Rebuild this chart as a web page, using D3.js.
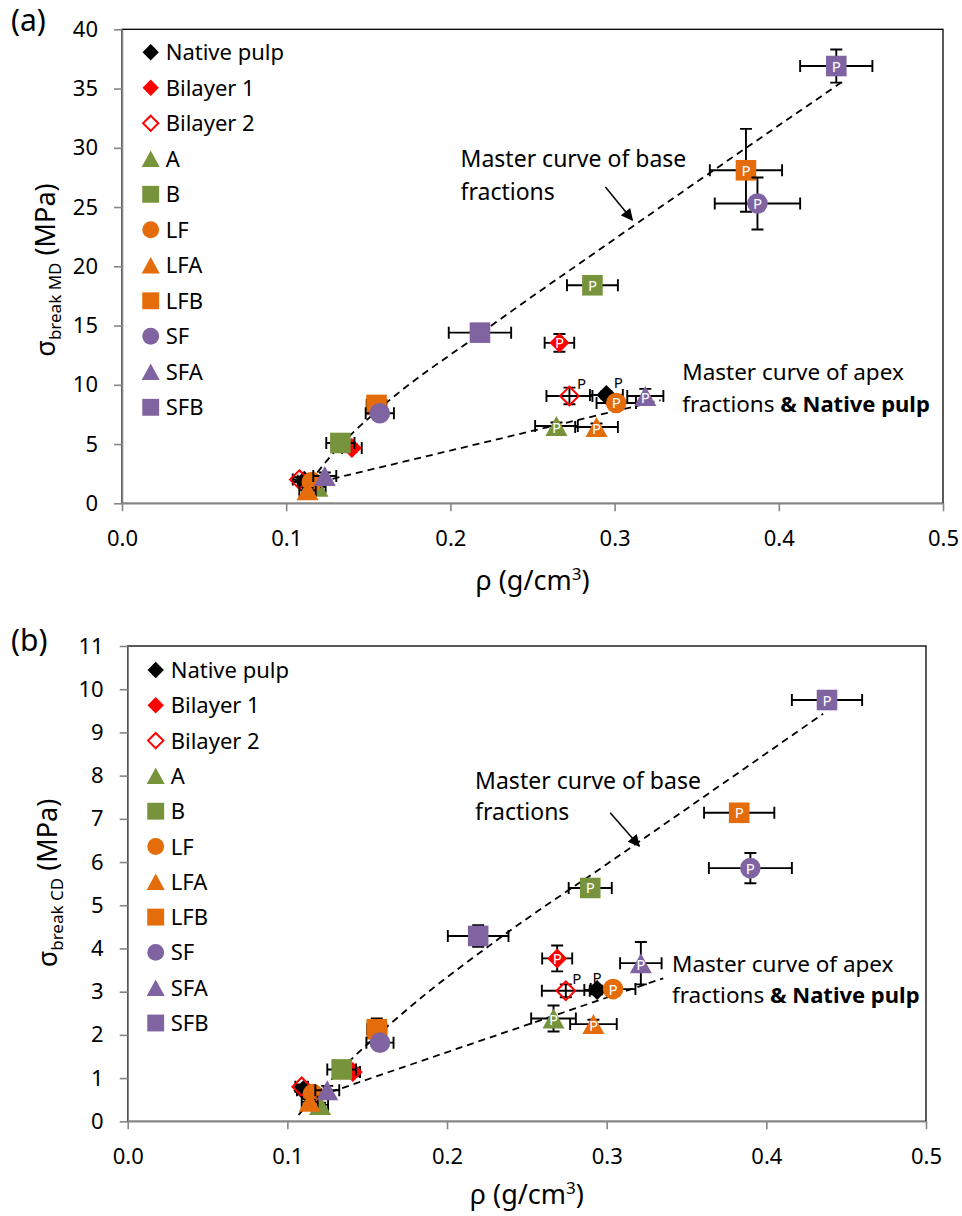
<!DOCTYPE html>
<html>
<head>
<meta charset="utf-8">
<script src="https://cdn.jsdelivr.net/npm/d3@7"></script>
<style>
  html, body { margin: 0; padding: 0; background: #fff; }
  svg { display: block; font-family: "Noto Sans", "Open Sans", sans-serif; }
</style>
</head>
<body>
<svg id="fig" width="962" height="1216"></svg>
<script>
// ---- series definitions ----
const seriesNames  = ["Native pulp", "Bilayer 1", "Bilayer 2", "A", "B", "LF", "LFA", "LFB", "SF", "SFA", "SFB"];
const seriesColors = ["#000000", "#ff0000", "#ff0000", "#77933c", "#77933c", "#e46c0a", "#e46c0a", "#e46c0a", "#8064a2", "#8064a2", "#8064a2"];
const seriesShapes = ["diamond", "diamond", "diamondOpen", "triangle", "square", "circle", "triangle", "square", "circle", "triangle", "square"];

// ---- tick values ----
const rhoTicks = [0, 0.1, 0.2, 0.3, 0.4, 0.5];
const mdTicks  = [0, 5, 10, 15, 20, 25, 30, 35, 40];
const cdTicks  = [0, 1, 2, 3, 4, 5, 6, 7, 8, 9, 10, 11];

// ---- (a) machine direction: unpressed sheets ----
const mdRhoLoose      = [0.111, 0.140, 0.108, 0.119, 0.133, 0.1156, 0.113, 0.155, 0.157, 0.1235, 0.218];
const mdRhoLooseErr   = [0.004, 0.006, 0.004, 0.005, 0.0086, 0.005, 0.005, 0.006, 0.0086, 0.007, 0.019];
const mdSigmaLoose    = [1.9, 4.67, 2.0, 1.4, 5.09, 1.8, 1.1, 8.3, 7.6, 2.3, 14.4];
const mdSigmaLooseErr = [0.2, 0.3, 0.2, 0.2, 0.3, 0.2, 0.2, 0.4, 0.4, 0.3, 0.6];
// ---- (a) machine direction: pressed sheets (P) ----
const mdRhoPressed      = [0.295, 0.2664, 0.2725, 0.2646, 0.2865, 0.301, 0.289, 0.380, 0.387, 0.3187, 0.435];
const mdRhoPressedErr   = [0.010, 0.009, 0.014, 0.013, 0.0155, 0.012, 0.013, 0.022, 0.026, 0.011, 0.022];
const mdSigmaPressed    = [9.14, 13.54, 9.06, 6.52, 18.4, 8.47, 6.44, 28.1, 25.3, 9.06, 36.9];
const mdSigmaPressedErr = [0.3, 0.75, 0.7, 0.3, 0.5, 0.3, 0.3, 3.5, 2.2, 0.6, 1.4];

// ---- (b) cross direction: unpressed sheets ----
const cdRhoLoose      = [0.110, 0.141, 0.109, 0.1205, 0.134, 0.116, 0.114, 0.156, 0.158, 0.125, 0.2195];
const cdRhoLooseErr   = [0.004, 0.0045, 0.004, 0.005, 0.009, 0.005, 0.005, 0.006, 0.0085, 0.0075, 0.019];
const cdSigmaLoose    = [0.72, 1.14, 0.80, 0.38, 1.2, 0.63, 0.45, 2.13, 1.82, 0.72, 4.29];
const cdSigmaLooseErr = [0.05, 0.1, 0.05, 0.05, 0.1, 0.05, 0.05, 0.25, 0.1, 0.1, 0.25];
// ---- (b) cross direction: pressed sheets (P) ----
const cdRhoPressed      = [0.294, 0.269, 0.2744, 0.2667, 0.2897, 0.304, 0.2917, 0.383, 0.390, 0.3214, 0.438];
const cdRhoPressedErr   = [0.008, 0.0094, 0.015, 0.014, 0.0135, 0.014, 0.0146, 0.022, 0.026, 0.013, 0.022];
const cdSigmaPressed    = [3.04, 3.77, 3.02, 2.38, 5.40, 3.06, 2.25, 7.14, 5.86, 3.66, 9.75];
const cdSigmaPressedErr = [0.1, 0.3, 0.15, 0.3, 0.1, 0.1, 0.1, 0.08, 0.35, 0.49, 0.1];

// ---- master curves ----
const mdBaseRho   = [0.110, 0.131, 0.157, 0.218, 0.300, 0.439];
const mdBaseSigma = [1.0, 4.6, 8.0, 14.3, 22.3, 35.6];
const mdApexRho   = [0.114, 0.328];
const mdApexSigma = [1.6, 8.7];
const cdBaseRho   = [0.107, 0.135, 0.176, 0.233, 0.300, 0.4355];
const cdBaseSigma = [0.15, 1.25, 2.62, 4.24, 5.95, 9.43];
const cdApexRho   = [0.113, 0.3354];
const cdApexSigma = [0.5, 3.31];

// ---- annotation anchors (data units) ----
const mdBaseNote  = { rho: 0.2062, sigma: [28.4, 25.6], arrow: [[0.2944, 26.7], [0.3108, 23.9]] };
const mdApexNote  = { rho: 0.3412, sigma: [10.4, 7.73] };
const cdBaseNote  = { rho: 0.2176, sigma: [7.69, 6.97], arrow: [[0.3022, 7.14], [0.3204, 6.37]] };
const cdApexNote  = { rho: 0.3409, sigma: [3.46, 2.74] };

const panels = [
  {
    letter: "(a)", letterY: 31, sub: "break MD",
    left: 122, right: 943, top: 29.3, bottom: 503.3, yMax: 40, yTicks: mdTicks,
    titleY: 270, titleX: 55, xTitleY: 590,
    legendX: 150.7, legendY: 52.3, legendStep: 35.5,
    // offsets of the black "P" tags beside Native pulp and Bilayer 2
    tagOffset: { 0: [12, -12], 2: [12, -12] },
    rhoL: mdRhoLoose, rhoLE: mdRhoLooseErr, sL: mdSigmaLoose, sLE: mdSigmaLooseErr,
    rhoP: mdRhoPressed, rhoPE: mdRhoPressedErr, sP: mdSigmaPressed, sPE: mdSigmaPressedErr,
    base: d3.zip(mdBaseRho, mdBaseSigma), apex: d3.zip(mdApexRho, mdApexSigma),
    baseNote: mdBaseNote, apexNote: mdApexNote
  },
  {
    letter: "(b)", letterY: 651, sub: "break CD",
    left: 127.7, right: 926, top: 646, bottom: 1121.3, yMax: 11, yTicks: cdTicks,
    titleY: 883, titleX: 57, xTitleY: 1204,
    legendX: 155.7, legendY: 670, legendStep: 35.3,
    tagOffset: { 0: [0, -12], 2: [11, -12] },
    rhoL: cdRhoLoose, rhoLE: cdRhoLooseErr, sL: cdSigmaLoose, sLE: cdSigmaLooseErr,
    rhoP: cdRhoPressed, rhoPE: cdRhoPressedErr, sP: cdSigmaPressed, sPE: cdSigmaPressedErr,
    base: d3.zip(cdBaseRho, cdBaseSigma), apex: d3.zip(cdApexRho, cdApexSigma),
    baseNote: cdBaseNote, apexNote: cdApexNote
  }
];

const svg = d3.select("#fig");
const AXIS_GREY = "#868686";

svg.append("defs").append("marker")
  .attr("id", "arrowHead")
  .attr("viewBox", "0 0 10 10")
  .attr("refX", 9).attr("refY", 5)
  .attr("markerWidth", 9).attr("markerHeight", 8)
  .attr("markerUnits", "strokeWidth")
  .attr("orient", "auto")
  .append("path").attr("d", "M0,0 L10,5 L0,10 Z").attr("fill", "#000");

// marker outline for a given shape, scaled by k
function shapePath(shape, k) {
  if (shape === "diamond" || shape === "diamondOpen") {
    const r = 10 * k;
    return `M0,${-r}L${r},0L0,${r}L${-r},0Z`;
  }
  if (shape === "triangle") {
    const w = 22 * k, h = 20 * k;
    return `M0,${-h / 2}L${w / 2},${h / 2}L${-w / 2},${h / 2}Z`;
  }
  if (shape === "square") {
    const a = 10.3 * k;
    return `M${-a},${-a}H${a}V${a}H${-a}Z`;
  }
  const r = 10.3 * k;
  return `M${r},0A${r},${r} 0 1,1 ${-r},0A${r},${r} 0 1,1 ${r},0Z`;
}

function drawMarker(g, i, cx, cy, k) {
  const open = seriesShapes[i] === "diamondOpen";
  g.append("path")
    .attr("d", shapePath(seriesShapes[i], open ? k * 0.93 : k))
    .attr("transform", `translate(${cx},${cy})`)
    .attr("fill", open ? "none" : seriesColors[i])
    .attr("stroke", open ? seriesColors[i] : "none")
    .attr("stroke-width", open ? 2 : 0);
}

function errorBars(g, x, y, rho, rhoE, s, sE) {
  const cx = x(rho), cy = y(s), cap = 6;
  const x0 = x(rho - rhoE), x1 = x(rho + rhoE);
  const y0 = y(s - sE), y1 = y(s + sE);
  const p = `M${x0},${cy}H${x1}M${x0},${cy - cap}V${cy + cap}M${x1},${cy - cap}V${cy + cap}` +
            `M${cx},${y0}V${y1}M${cx - cap},${y0}H${cx + cap}M${cx - cap},${y1}H${cx + cap}`;
  g.append("path").attr("d", p).attr("fill", "none").attr("stroke", "#000").attr("stroke-width", 1.9);
}

panels.forEach(cfg => {
  const x = d3.scaleLinear().domain([0, 0.5]).range([cfg.left, cfg.right]);
  const y = d3.scaleLinear().domain([0, cfg.yMax]).range([cfg.bottom, cfg.top]);
  const g = svg.append("g");

  // plot-area frame
  g.append("rect")
    .attr("x", cfg.left).attr("y", cfg.top)
    .attr("width", cfg.right - cfg.left).attr("height", cfg.bottom - cfg.top)
    .attr("fill", "none").attr("stroke", "#000").attr("stroke-width", 1.3);

  // axes
  const gx = g.append("g").attr("transform", `translate(0,${cfg.bottom})`)
    .call(d3.axisBottom(x).tickValues(rhoTicks).tickFormat(d3.format(".1f"))
      .tickSizeInner(8).tickSizeOuter(0).tickPadding(19));
  const gy = g.append("g").attr("transform", `translate(${cfg.left},0)`)
    .call(d3.axisLeft(y).tickValues(cfg.yTicks).tickFormat(d3.format("d"))
      .tickSizeInner(8).tickSizeOuter(0).tickPadding(16));
  [gx, gy].forEach(ax => {
    ax.attr("font-family", null).attr("font-size", null);
    ax.select(".domain").attr("stroke", AXIS_GREY).attr("stroke-width", 1.6);
    ax.selectAll(".tick line").attr("stroke", AXIS_GREY).attr("stroke-width", 1.6);
    ax.selectAll(".tick text").attr("fill", "#000").style("font-size", "22px");
  });

  // master curves
  const line = d3.line().x(d => x(d[0])).y(d => y(d[1]));
  g.append("path").attr("d", line.curve(d3.curveMonotoneX)(cfg.base))
    .attr("fill", "none").attr("stroke", "#000").attr("stroke-width", 1.8).attr("stroke-dasharray", "7,5");
  g.append("path").attr("d", line.curve(d3.curveLinear)(cfg.apex))
    .attr("fill", "none").attr("stroke", "#000").attr("stroke-width", 1.8).attr("stroke-dasharray", "7,5");

  // points: error bars beneath each series' markers
  seriesNames.forEach((name, i) => {
    errorBars(g, x, y, cfg.rhoL[i], cfg.rhoLE[i], cfg.sL[i], cfg.sLE[i]);
    errorBars(g, x, y, cfg.rhoP[i], cfg.rhoPE[i], cfg.sP[i], cfg.sPE[i]);
    drawMarker(g, i, x(cfg.rhoL[i]), y(cfg.sL[i]), 1);
    drawMarker(g, i, x(cfg.rhoP[i]), y(cfg.sP[i]), 1);
  });

  // "P" tags on pressed sheets
  seriesNames.forEach((name, i) => {
    const off = cfg.tagOffset[i];
    const cx = x(cfg.rhoP[i]), cy = y(cfg.sP[i]);
    g.append("text")
      .attr("x", off ? cx + off[0] : cx)
      .attr("y", (off ? cy + off[1] : cy) + (seriesShapes[i] === "triangle" ? 7 : 5.5))
      .attr("text-anchor", "middle")
      .attr("fill", off ? "#000" : "#fff")
      .style("font-size", "15px")
      .text("P");
  });

  // annotations
  const bn = cfg.baseNote, an = cfg.apexNote;
  const t1 = g.append("text").style("font-size", "23px").attr("fill", "#000");
  t1.append("tspan").attr("x", x(bn.rho)).attr("y", y(bn.sigma[0])).text("Master curve of base");
  t1.append("tspan").attr("x", x(bn.rho)).attr("y", y(bn.sigma[1])).text("fractions");
  g.append("line")
    .attr("x1", x(bn.arrow[0][0])).attr("y1", y(bn.arrow[0][1]))
    .attr("x2", x(bn.arrow[1][0])).attr("y2", y(bn.arrow[1][1]))
    .attr("stroke", "#000").attr("stroke-width", 1.5)
    .attr("marker-end", "url(#arrowHead)");
  const t2 = g.append("text").style("font-size", "22.5px").attr("fill", "#000");
  t2.append("tspan").attr("x", x(an.rho)).attr("y", y(an.sigma[0])).text("Master curve of apex");
  t2.append("tspan").attr("x", x(an.rho)).attr("y", y(an.sigma[1])).text("fractions ");
  t2.append("tspan").attr("font-weight", "bold").style("font-size", "22px").text("& Native pulp");

  // legend
  seriesNames.forEach((name, i) => {
    const ly = cfg.legendY + i * cfg.legendStep;
    drawMarker(g, i, cfg.legendX, ly, 0.82);
    g.append("text").attr("x", cfg.legendX + 15).attr("y", ly + 8)
      .style("font-size", "22px").attr("fill", "#000").text(name);
  });

  // axis titles
  const yt = g.append("text")
    .attr("transform", `translate(${cfg.titleX},${cfg.titleY}) rotate(-90)`)
    .attr("text-anchor", "middle").style("font-size", "27px").attr("fill", "#000");
  yt.append("tspan").text("σ");
  yt.append("tspan").attr("dy", 6).style("font-size", "17px").text(cfg.sub);
  yt.append("tspan").attr("dy", -6).text(" (MPa)");

  const xt = g.append("text")
    .attr("x", (cfg.left + cfg.right) / 2).attr("y", cfg.xTitleY)
    .attr("text-anchor", "middle").style("font-size", "27px").attr("fill", "#000");
  xt.append("tspan").text("ρ (g/cm");
  xt.append("tspan").attr("dy", -10).style("font-size", "17px").text("3");
  xt.append("tspan").attr("dy", 10).text(")");

  // panel letter
  g.append("text").attr("x", 11).attr("y", cfg.letterY)
    .style("font-size", "30px").attr("fill", "#000").text(cfg.letter);
});
</script>
</body>
</html>
